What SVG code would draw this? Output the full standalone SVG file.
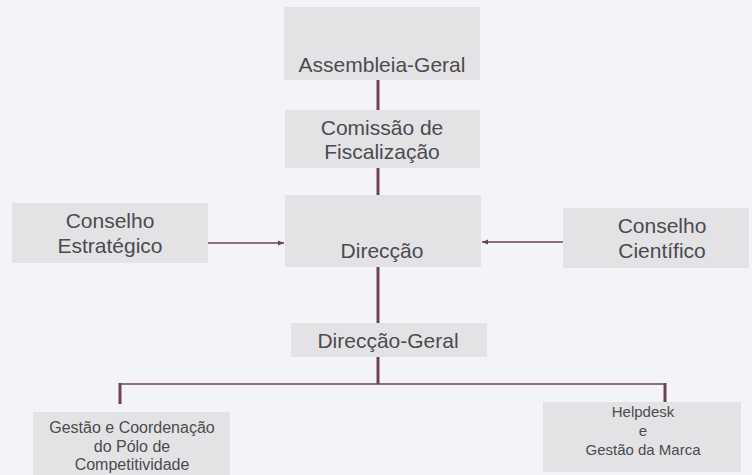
<svg xmlns="http://www.w3.org/2000/svg" width="752" height="475" viewBox="0 0 752 475">
<style>
.box{fill:#e3e3e6}
text{font-family:'Liberation Sans',sans-serif;fill:#4d4a4f;text-anchor:middle}
.big{font-size:21px}
.sm{font-size:16px}
.xs{font-size:15px}
.thick{stroke:#6e4256;stroke-width:3;fill:none}
.thin{stroke:#6e4256;stroke-width:1.5;fill:none}
</style>
<defs>
<marker id="ah" viewBox="0 0 10 10" refX="10" refY="5" markerWidth="6" markerHeight="6" orient="auto" markerUnits="userSpaceOnUse">
<path d="M0,1 L10,5 L0,9 z" fill="#6e4256"/>
</marker>
</defs>
<rect width="752" height="475" fill="#f4f4f8"/>
<g id="connectors">
<line class="thick" x1="378" y1="80" x2="378" y2="110"/>
<line class="thick" x1="378" y1="168" x2="378" y2="195"/>
<line class="thick" x1="378" y1="267" x2="378" y2="323"/>
<line class="thick" x1="378" y1="357" x2="378" y2="384"/>
<polyline class="thin" points="120,384 665,384"/>
<line class="thick" x1="120" y1="383" x2="120" y2="404"/>
<line class="thick" x1="665" y1="383" x2="665" y2="402"/>
<line class="thin" x1="208" y1="243" x2="284" y2="243" marker-end="url(#ah)"/>
<line class="thin" x1="563" y1="242" x2="482" y2="242" marker-end="url(#ah)"/>
</g>
<g id="assembleia">
<rect class="box" x="284" y="7" width="196" height="73"/>
<text class="big" x="382" y="72">Assembleia-Geral</text>
</g>
<g id="comissao">
<rect class="box" x="285" y="110" width="195" height="58"/>
<text class="big" x="382" y="135">Comissão de</text>
<text class="big" x="382" y="159">Fiscalização</text>
</g>
<g id="direccao">
<rect class="box" x="285" y="195" width="196" height="72"/>
<text class="big" x="382" y="258">Direcção</text>
</g>
<g id="conselho-estrategico">
<rect class="box" x="12" y="203" width="196" height="60"/>
<text class="big" x="110" y="228">Conselho</text>
<text class="big" x="110" y="253">Estratégico</text>
</g>
<g id="conselho-cientifico">
<rect class="box" x="563" y="208" width="186" height="60"/>
<text class="big" x="662" y="233">Conselho</text>
<text class="big" x="662" y="258">Científico</text>
</g>
<g id="direccao-geral">
<rect class="box" x="291" y="323" width="196" height="34"/>
<text class="big" x="388" y="348">Direcção-Geral</text>
</g>
<g id="gestao">
<rect class="box" x="33" y="412" width="197" height="63"/>
<text class="sm" x="132" y="433">Gestão e Coordenação</text>
<text class="sm" x="132" y="452">do Pólo de</text>
<text class="sm" x="132" y="470">Competitividade</text>
</g>
<g id="helpdesk">
<rect class="box" x="543" y="402" width="198" height="70"/>
<text class="xs" x="643" y="417">Helpdesk</text>
<text class="xs" x="643" y="436">e</text>
<text class="xs" x="643" y="455">Gestão da Marca</text>
</g>
</svg>
